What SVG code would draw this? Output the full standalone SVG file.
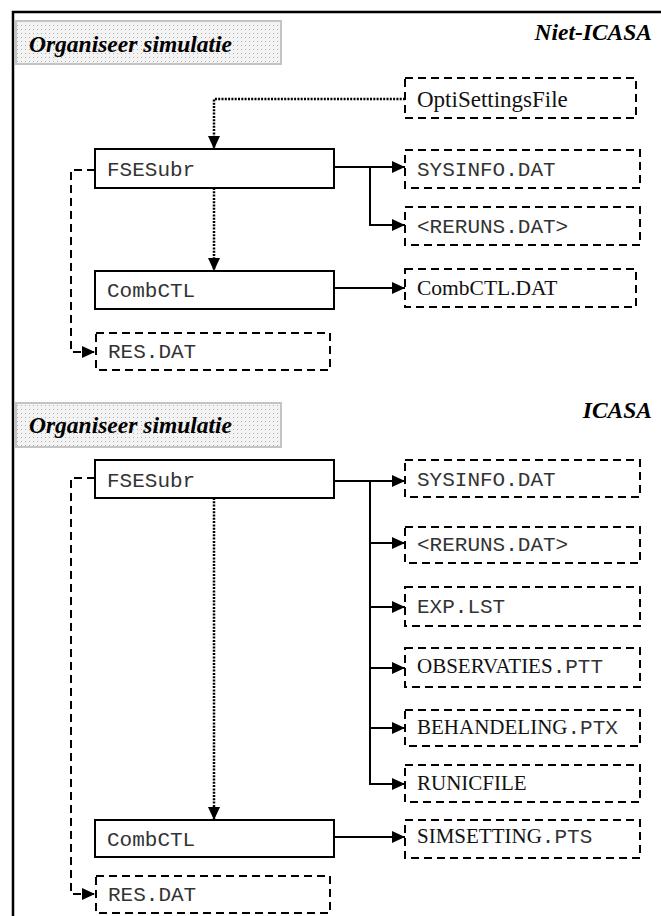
<svg xmlns="http://www.w3.org/2000/svg" width="661" height="916" viewBox="0 0 661 916">
<style>
.bg{fill:#fff}
.frame{fill:none;stroke:#000;stroke-width:2.5}
.title{fill:url(#stip);stroke:#c4c4c4;stroke-width:2}
.ttl{font-family:"Liberation Serif",serif;font-weight:bold;font-style:italic;font-size:23.5px;fill:#000}
.proc{fill:#fff;stroke:#000;stroke-width:2}
.file{fill:#fff;stroke:#000;stroke-width:2;stroke-dasharray:8,5}
.mono{font-family:"Liberation Mono",monospace;font-size:21px;fill:#333}
.serif{font-family:"Liberation Serif",serif;font-size:21px;fill:#111}
.solid{fill:none;stroke:#000;stroke-width:2;marker-end:url(#ah)}
.dot{fill:none;stroke:#000;stroke-width:2.5;stroke-dasharray:2,1.3;marker-end:url(#ah)}
.dash{fill:none;stroke:#000;stroke-width:2;stroke-dasharray:8,5;marker-end:url(#ah)}
</style>
<defs>
<pattern id="stip" width="4" height="4" patternUnits="userSpaceOnUse">
<rect width="4" height="4" fill="#f3f3f3"/>
<rect x="1" y="1" width="1" height="1" fill="#b0b0b0"/>
</pattern>
<marker id="ah" markerUnits="userSpaceOnUse" markerWidth="13" markerHeight="12" refX="13" refY="6" orient="auto">
<path d="M0,0 L13,6 L0,12 z" fill="#000"/>
</marker>
</defs>
<rect class="bg" width="661" height="916"/>
<path class="frame" d="M13,918 V12 H663"/>

<g id="connectors">
<path class="dot" d="M405,99 H214 V149"/>
<path class="solid" d="M334,167 H405"/>
<path class="solid" d="M370,167 V225 H405"/>
<path class="dot" d="M214,188 V271"/>
<path class="solid" d="M334,288 H405"/>
<path class="dash" d="M95,170 H71 V352 H95"/>

<path class="solid" d="M334,481 H405"/>
<path class="solid" d="M370,481 V784 H405"/>
<path class="solid" d="M370,543 H405"/>
<path class="solid" d="M370,607 H405"/>
<path class="solid" d="M370,668 H405"/>
<path class="solid" d="M370,728 H405"/>
<path class="dot" d="M214,498 V820"/>
<path class="solid" d="M334,837 H405"/>
<path class="dash" d="M95,478 H71 V894 H95"/>
</g>

<g id="title1"><rect class="title" x="16" y="21" width="265" height="43"/><text class="ttl" x="29" y="52">Organiseer simulatie</text></g>
<g id="label1"><text class="ttl" x="652" y="40" text-anchor="end">Niet-ICASA</text></g>
<g id="opti"><rect class="file" x="405" y="78" width="231" height="40"/><text class="serif" x="417" y="107" style="font-size:23px">OptiSettingsFile</text></g>
<g id="fse1"><rect class="proc" x="95" y="149" width="239" height="39"/><text class="mono" x="107" y="176">FSESubr</text></g>
<g id="sysinfo1"><rect class="file" x="405" y="150" width="235" height="38"/><text class="mono" x="417" y="176">SYSINFO.DAT</text></g>
<g id="reruns1"><rect class="file" x="405" y="207" width="235" height="38"/><text class="mono" x="417" y="233">&lt;RERUNS.DAT&gt;</text></g>
<g id="combctl1"><rect class="proc" x="95" y="271" width="239" height="38"/><text class="mono" x="107" y="297">CombCTL</text></g>
<g id="combctldat"><rect class="file" x="405" y="269" width="231" height="38"/><text class="serif" x="417" y="295" style="font-size:21.5px">CombCTL.DAT</text></g>
<g id="res1"><rect class="file" x="96" y="333" width="234" height="37"/><text class="mono" x="108" y="358">RES.DAT</text></g>

<g id="title2"><rect class="title" x="16" y="403" width="265" height="44"/><text class="ttl" x="29" y="433">Organiseer simulatie</text></g>
<g id="label2"><text class="ttl" x="652" y="418" text-anchor="end">ICASA</text></g>
<g id="fse2"><rect class="proc" x="95" y="460" width="239" height="38"/><text class="mono" x="107" y="487">FSESubr</text></g>
<g id="sysinfo2"><rect class="file" x="405" y="460" width="235" height="37"/><text class="mono" x="417" y="486">SYSINFO.DAT</text></g>
<g id="reruns2"><rect class="file" x="405" y="527" width="235" height="36"/><text class="mono" x="417" y="551">&lt;RERUNS.DAT&gt;</text></g>
<g id="explst"><rect class="file" x="405" y="587" width="235" height="39"/><text class="mono" x="417" y="613">EXP.LST</text></g>
<g id="obs"><rect class="file" x="405" y="648" width="235" height="39"/><text x="417" y="673"><tspan class="serif">OBSERVATIES</tspan><tspan class="mono">.PTT</tspan></text></g>
<g id="beh"><rect class="file" x="405" y="710" width="235" height="36"/><text x="417" y="734"><tspan class="serif">BEHANDELING</tspan><tspan class="mono">.PTX</tspan></text></g>
<g id="runic"><rect class="file" x="405" y="765" width="235" height="37"/><text class="serif" x="417" y="790">RUNICFILE</text></g>
<g id="simset"><rect class="file" x="405" y="820" width="235" height="38"/><text x="417" y="843"><tspan class="serif">SIMSETTING</tspan><tspan class="mono">.PTS</tspan></text></g>
<g id="combctl2"><rect class="proc" x="95" y="820" width="239" height="37"/><text class="mono" x="107" y="846">CombCTL</text></g>
<g id="res2"><rect class="file" x="96" y="876" width="234" height="37"/><text class="mono" x="108" y="901">RES.DAT</text></g>
</svg>
